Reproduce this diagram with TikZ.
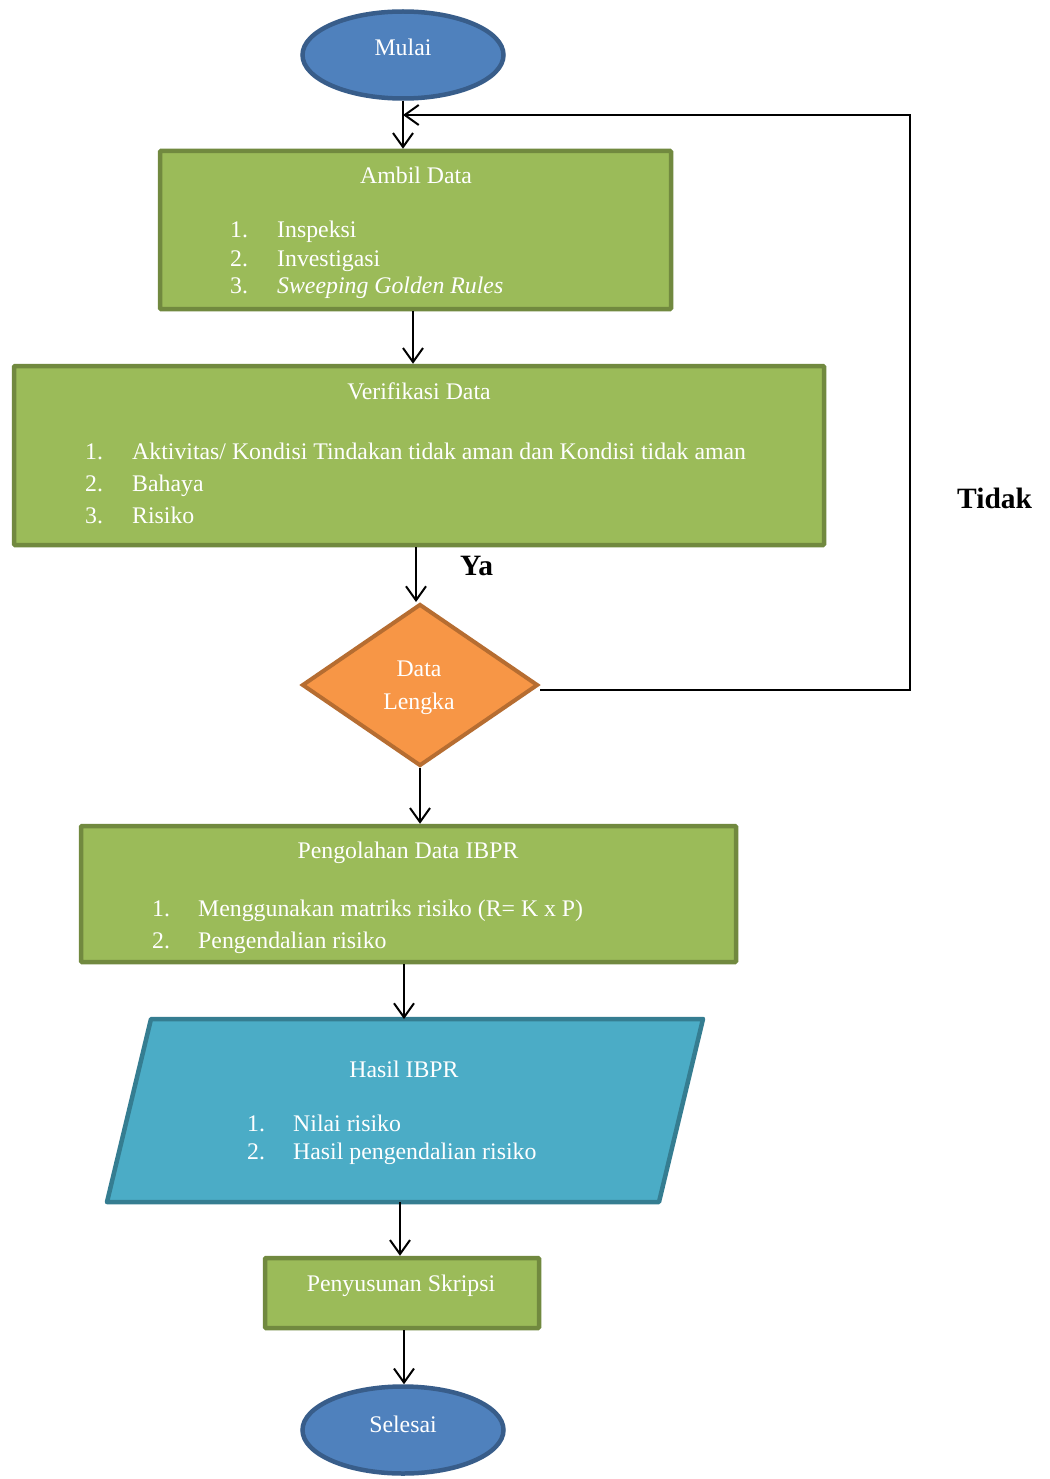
\documentclass[tikz,border=0pt]{standalone}
\usepackage{fontspec}
\setmainfont{Liberation Serif}
\usetikzlibrary{shapes.geometric,arrows.meta,calc}
\definecolor{gfill}{HTML}{9BBB59}
\definecolor{gline}{HTML}{71893F}
\definecolor{bfill}{HTML}{4F81BD}
\definecolor{bline}{HTML}{385D8A}
\definecolor{ofill}{HTML}{F79646}
\definecolor{oline}{HTML}{B66D31}
\definecolor{tfill}{HTML}{4BACC6}
\definecolor{tline}{HTML}{357D91}
\tikzset{
 greenbox/.style={rectangle, draw=gline, fill=gfill, line width=4.5pt, rounded corners=1pt, inner sep=0},
 term/.style={ellipse, draw=bline, fill=bfill, line width=4.5pt, inner sep=0},
 dec/.style={diamond, draw=oline, fill=ofill, line width=4pt, inner sep=0},
 iobase/.style={rectangle, inner sep=0, outer sep=2pt},
 ioshape/.style={draw=tline, fill=tfill, line width=4.5pt, line join=round},
 txt/.style={text=white, font=\fontsize{23.8}{28}\selectfont, inner sep=0, anchor=base},
 itm/.style={txt, anchor=base west},
 lbl/.style={font=\fontsize{29.5}{34}\selectfont\bfseries, inner sep=0, anchor=base west},
 conn/.style={line width=2pt, -{Straight Barb[length=14pt, width=20pt, line width=2pt]}}
}
\begin{document}
\begin{tikzpicture}[x=1pt,y=-1pt]
\useasboundingbox[fill=white] (0,0) rectangle (1049,1479);
% shapes
\node[term, minimum width=201pt, minimum height=87pt] (mulai) at (403,55) {};
\node[greenbox, minimum width=511pt, minimum height=158pt] (ambil) at (415.5,230) {};
\node[greenbox, minimum width=810pt, minimum height=179pt] (verif) at (419,455.5) {};
\node[dec, minimum width=236pt, minimum height=162pt] (cek) at (420,685) {};
\node[greenbox, minimum width=655pt, minimum height=136pt] (olah) at (408.5,894) {};
\node[iobase, minimum width=592pt, minimum height=179pt] (hasil) at (405,1110.5) {};
\draw[ioshape] ([xshift=44pt]hasil.north west) -- (hasil.north east)
  -- ([xshift=-44pt]hasil.south east) -- (hasil.south west) -- cycle;
\node[greenbox, minimum width=274pt, minimum height=70pt] (susun) at (402,1293) {};
\node[term, minimum width=201pt, minimum height=87pt] (selesai) at (403,1430) {};
% texts
\node[txt] (tmulai) at (403,56) {Mulai};
\node[txt] (tambil) at (416,184) {Ambil Data};
\node[itm] (a1n) at (230,238) {1.};
\node[itm] (a1t) at (277,238) {Inspeksi};
\node[itm] (a2n) at (230,266) {2.};
\node[itm] (a2t) at (277,266) {Investigasi};
\node[itm] (a3n) at (230,293) {3.};
\node[itm] (a3t) at (277,293) {\itshape Sweeping Golden Rules};
\node[txt] (tverif) at (419,399) {Verifikasi Data};
\node[itm] (v1n) at (85,459) {1.};
\node[itm] (v1t) at (132,459) {Aktivitas/ Kondisi Tindakan tidak aman dan Kondisi tidak aman};
\node[itm] (v2n) at (85,491) {2.};
\node[itm] (v2t) at (132,491) {Bahaya};
\node[itm] (v3n) at (85,523) {3.};
\node[itm] (v3t) at (132,523) {Risiko};
\node[txt] (tcek1) at (419,676) {Data};
\node[txt] (tcek2) at (419,709) {Lengka};
\node[txt] (tolah) at (408,858) {Pengolahan Data IBPR};
\node[itm] (o1n) at (152,916) {1.};
\node[itm] (o1t) at (198,916) {Menggunakan matriks risiko (R= K x P)};
\node[itm] (o2n) at (152,948) {2.};
\node[itm] (o2t) at (198,948) {Pengendalian risiko};
\node[txt] (thasil) at (404,1077) {Hasil IBPR};
\node[itm] (h1n) at (247,1131) {1.};
\node[itm] (h1t) at (293,1131) {Nilai risiko};
\node[itm] (h2n) at (247,1159) {2.};
\node[itm] (h2t) at (293,1159) {Hasil pengendalian risiko};
\node[txt] (tsusun) at (401,1291) {Penyusunan Skripsi};
\node[txt] (tselesai) at (403,1432) {Selesai};
\node[lbl] (ya) at (460,575) {Ya};
\node[lbl] (tidak) at (957,508) {Tidak};
% connectors
\coordinate (loopEnd) at (403,115);
\coordinate (loopCorner) at (910,115);
\draw[conn] (mulai.south) -- (mulai.south |- ambil.north);
\draw[conn] ([xshift=-2.5pt]ambil.south) -- ([xshift=-2.5pt]ambil.south |- verif.north);
\draw[conn] ([xshift=-3pt]verif.south) -- ([xshift=-3pt]verif.south |- cek.north);
\draw[conn] (cek.south) -- (cek.south |- olah.north);
\draw[conn] ([xshift=-4.5pt]olah.south) -- ([xshift=-4.5pt]olah.south |- hasil.north);
\draw[conn] ([xshift=-5pt]hasil.south) -- ([xshift=-5pt]hasil.south |- susun.north);
\draw[conn] ([xshift=2pt]susun.south) -- ([xshift=2pt]susun.south |- selesai.north);
\draw[conn] ([yshift=-5pt]cek.east) -| (loopCorner) -- (loopEnd);
\end{tikzpicture}
\end{document}
